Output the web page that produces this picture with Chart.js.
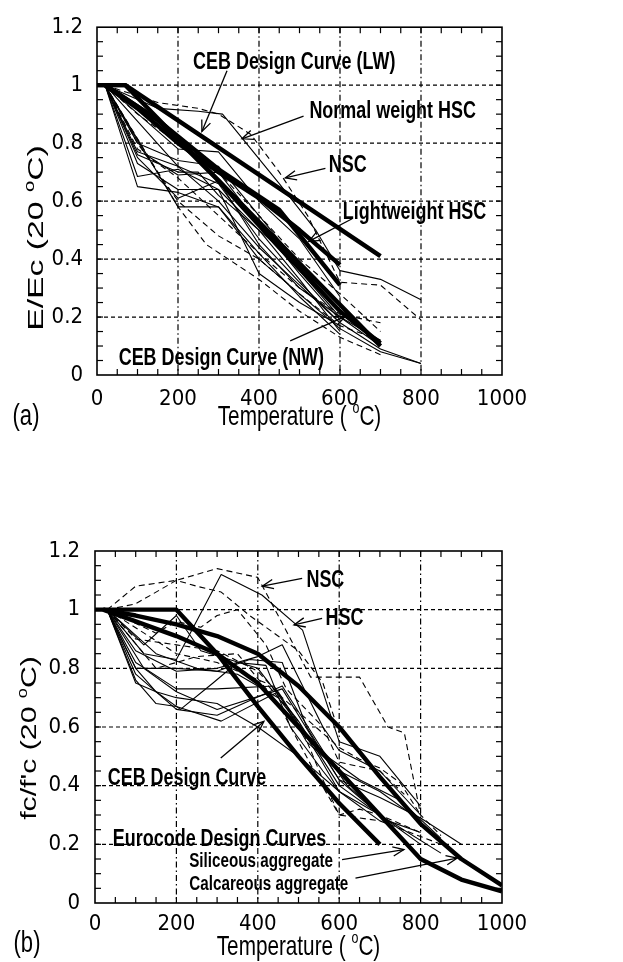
<!DOCTYPE html>
<html>
<head>
<meta charset="utf-8">
<script src="https://cdn.jsdelivr.net/npm/chart.js@4.4.1/dist/chart.umd.min.js"></script>
<style>
  html, body { margin: 0; padding: 0; background: #fff; }
  #wrap { position: relative; width: 623px; height: 962px; }
  .box { position: absolute; left: 0; width: 623px; }
</style>
</head>
<body>
<div id="wrap">
  <div class="box" style="top:0;height:480px"><canvas id="chartA" width="623" height="480"></canvas></div>
  <div class="box" style="top:480px;height:482px"><canvas id="chartB" width="623" height="482"></canvas></div>
</div>
<script>
// --- axis ticks (shared by both panels) ---
const X_TICKS = [0, 200, 400, 600, 800, 1000];
const X_TICK_LABELS = ['0', '200', '400', '600', '800', '1000'];
const Y_TICKS = [0, 0.2, 0.4, 0.6, 0.8, 1.0, 1.2];
const Y_TICK_LABELS = ['0', '0.2', '0.4', '0.6', '0.8', '1', '1.2'];
const X_GRID = [200, 400, 600, 800];
const Y_GRID = [0.2, 0.4, 0.6, 0.8, 1.0];

// --- panel (a): E/Ec vs temperature, points are [°C, ratio] ---
const aSolid1 = [[20,1],[100,0.77],[200,0.72],[300,0.66],[400,0.47],[500,0.32],[600,0.18],[700,0.09],[800,0.04]];
const aSolid2 = [[20,1],[100,0.65],[200,0.63],[300,0.58],[400,0.4],[500,0.28],[600,0.16],[700,0.08],[800,0.04]];
const aSolid3 = [[20,1],[100,0.685],[200,0.71],[300,0.64],[400,0.35],[500,0.25],[600,0.17]];
const aSolid4 = [[20,1],[100,0.75],[200,0.61],[300,0.67],[400,0.45],[500,0.3],[600,0.2],[700,0.1]];
const aSolid5 = [[20,1],[100,0.8],[200,0.74],[300,0.72],[400,0.55],[500,0.38],[600,0.22],[700,0.11]];
const aSolid6 = [[20,1],[150,0.92],[250,0.91],[310,0.9],[450,0.66],[540,0.5],[600,0.36],[700,0.33],[800,0.26]];
const aSolid7 = [[20,1],[200,0.78],[300,0.77],[400,0.6],[500,0.47],[600,0.27]];
const aSolid8 = [[20,1],[120,0.76],[200,0.69],[300,0.7],[400,0.52],[500,0.35],[600,0.19]];
const aSolid9 = [[20,1],[100,0.73],[200,0.64],[300,0.64],[400,0.5],[500,0.33],[600,0.15]];
const aSolid10 = [[20,1],[100,0.76],[200,0.7],[250,0.7],[300,0.62],[450,0.44],[600,0.2],[700,0.12]];
const aSolid11 = [[20,1],[200,0.72],[300,0.6],[400,0.44],[500,0.31],[600,0.18]];
const aSolid12 = [[20,1],[200,0.58],[300,0.58],[400,0.42],[500,0.27],[600,0.14]];

const aDash1 = [[20,1],[150,0.94],[250,0.92],[300,0.9],[380,0.83],[450,0.7],[520,0.55],[600,0.32],[700,0.31],[800,0.19]];
const aDash2 = [[20,1],[100,0.8],[200,0.6],[300,0.48],[400,0.4],[500,0.28],[600,0.17],[700,0.12]];
const aDash3 = [[20,1],[150,0.7],[200,0.58],[270,0.45],[400,0.33],[500,0.22],[600,0.13],[700,0.07]];
const aDash4 = [[20,1],[100,0.78],[200,0.68],[300,0.55],[400,0.42],[500,0.3],[600,0.21],[700,0.18]];
const aDash5 = [[20,1],[100,0.9],[200,0.8],[300,0.7],[400,0.55],[500,0.4],[600,0.28],[700,0.15]];

const aCebLW = [[0,1],[70,1],[700,0.41]];
const aCebNW = [[0,1],[70,1],[700,0.1]];
const aThick3 = [[20,1],[150,0.88],[300,0.71],[450,0.57],[600,0.31]];
const aThick4 = [[20,1],[100,0.92],[200,0.8],[300,0.7],[400,0.61],[500,0.5],[600,0.38]];
const aThick5 = [[20,1],[150,0.88],[300,0.67],[450,0.44],[600,0.22],[700,0.11]];

// --- panel (b): fc/f'c vs temperature ---
const bSolid1 = [[30,1],[100,0.76],[150,0.68],[200,0.67],[310,0.62],[450,0.72],[550,0.5],[600,0.38],[700,0.3],[800,0.2]];
const bSolid2 = [[30,1],[100,0.78],[200,0.66],[300,0.64],[460,0.74],[560,0.52],[620,0.4],[720,0.28],[800,0.24]];
const bSolid3 = [[30,1],[120,0.8],[200,0.72],[300,0.66],[460,0.73],[540,0.55],[600,0.42],[700,0.3],[850,0.17]];
const bSolid4 = [[30,1],[100,0.82],[200,0.73],[300,0.73],[440,0.74],[520,0.55],[600,0.45],[700,0.38],[800,0.28]];
const bSolid5 = [[30,1],[120,0.85],[200,0.83],[310,1.12],[410,1.05],[510,0.93],[560,0.72],[600,0.55],[700,0.5],[800,0.33]];
const bSolid6 = [[30,1],[100,0.86],[200,0.79],[300,0.8],[400,0.84],[460,0.88],[560,0.6],[600,0.52],[700,0.45],[800,0.3]];
const bSolid7 = [[30,1],[100,0.8],[150,0.72],[210,0.66],[290,0.75],[350,0.82],[420,0.81],[480,0.6],[560,0.45],[600,0.38]];
const bSolid8 = [[30,1],[120,0.88],[200,0.98],[260,0.86],[400,0.8],[500,0.62],[600,0.4],[700,0.3]];
const bSolid9 = [[30,1],[100,0.8],[200,0.8],[300,0.79],[380,0.83],[460,0.82],[520,0.6],[600,0.42],[700,0.36],[800,0.29],[900,0.2]];
const bSolid10 = [[30,1],[150,0.85],[250,0.8],[350,0.78],[450,0.7],[550,0.52],[650,0.42],[750,0.35],[850,0.22]];
const bSolid11 = [[30,1],[100,0.75],[150,0.72],[200,0.7],[300,0.68],[400,0.6],[500,0.5],[600,0.38],[700,0.28]];

const bDash1 = [[30,1],[100,1.08],[200,1.1],[300,1.14],[400,1.11],[450,0.98],[530,0.77],[650,0.77],[720,0.6],[760,0.58],[800,0.3],[850,0.23]];
const bDash2 = [[30,1],[100,1.02],[200,1.1],[250,1.08],[310,1.06],[380,0.98],[440,0.92],[500,0.86],[560,0.75],[600,0.58]];
const bDash3 = [[30,1],[150,0.92],[200,0.96],[260,0.94],[300,0.98],[350,1.0],[420,0.88],[470,0.73],[560,0.6],[600,0.48],[700,0.45],[760,0.37]];
const bDash4 = [[30,1],[200,0.85],[300,0.82],[420,0.75],[500,0.62],[560,0.42],[600,0.3],[700,0.28],[850,0.2]];
const bDash5 = [[30,1],[150,0.8],[250,0.84],[350,0.85],[450,0.68],[550,0.42],[600,0.3],[650,0.32],[700,0.3],[800,0.24]];
const bDash6 = [[30,1],[100,0.9],[200,0.88],[300,0.86],[400,0.79],[460,0.7],[600,0.53],[650,0.49],[700,0.46],[750,0.41],[800,0.3]];

const bCeb = [[0,1],[200,1],[300,0.85],[400,0.67],[500,0.5],[600,0.34],[700,0.2]];
const bEuroSil = [[20,1],[100,0.96],[200,0.91],[300,0.85],[400,0.75],[500,0.6],[600,0.45],[700,0.3],[800,0.15],[900,0.08],[1000,0.04]];
const bEuroCal = [[20,1],[100,0.98],[200,0.95],[300,0.91],[400,0.85],[500,0.74],[600,0.6],[700,0.43],[800,0.27],[900,0.15],[1000,0.06]];

const FONT = '"Liberation Sans", Arial, Helvetica, sans-serif';
const FONT_NARROW = '"Liberation Sans Narrow", "Arial Narrow", "DejaVu Sans Condensed", "Liberation Sans", Arial, sans-serif';

function lineSet(pts, width, dash) {
  return {
    data: pts.map(p => ({ x: p[0], y: p[1] })),
    borderColor: '#000', borderWidth: width, borderDash: dash || [],
    pointRadius: 0, tension: 0, fill: false, borderJoinStyle: 'round'
  };
}

function seg(ctx, x1, y1, x2, y2) {
  ctx.beginPath(); ctx.moveTo(x1, y1); ctx.lineTo(x2, y2); ctx.stroke();
}

function arrow(ctx, x1, y1, x2, y2) {
  seg(ctx, x1, y1, x2, y2);
  const ang = Math.atan2(y2 - y1, x2 - x1), L = 12, w = 0.4;
  ctx.beginPath();
  ctx.moveTo(x2 - L * Math.cos(ang - w), y2 - L * Math.sin(ang - w));
  ctx.lineTo(x2, y2);
  ctx.lineTo(x2 - L * Math.cos(ang + w), y2 - L * Math.sin(ang + w));
  ctx.stroke();
}

// text made of parts, some parts raised and small (the "o" in oC)
function richText(ctx, parts, cx, cy, size, bold, rotate, sx, sy) {
  ctx.save();
  ctx.translate(cx, cy);
  if (rotate) ctx.rotate(-Math.PI / 2);
  ctx.scale(sx, sy);
  ctx.fillStyle = '#000';
  ctx.textBaseline = 'alphabetic';
  const fnt = s => (bold ? 'bold ' : '') + s + 'px ' + FONT;
  let total = 0;
  parts.forEach(p => { ctx.font = fnt(p.sup ? size * 0.6 : size); p.w = ctx.measureText(p.t).width; total += p.w; });
  let x = -total / 2;
  parts.forEach(p => {
    ctx.font = fnt(p.sup ? size * 0.6 : size);
    ctx.fillText(p.t, x, p.sup ? size * 0.358 - size * 0.42 : size * 0.358);
    x += p.w;
  });
  ctx.restore();
}

const framePlugin = {
  id: 'frame',
  beforeDatasetsDraw(chart) {
    const { ctx, chartArea: a, scales: { x, y } } = chart;
    ctx.save();
    ctx.strokeStyle = '#000';
    ctx.lineWidth = 1.2;
    ctx.setLineDash([6, 3, 1.5, 3]);
    X_GRID.forEach(v => { const px = x.getPixelForValue(v); seg(ctx, px, a.top, px, a.bottom); });
    ctx.setLineDash([4, 3]);
    Y_GRID.forEach(v => { const py = y.getPixelForValue(v); seg(ctx, a.left, py, a.right, py); });
    ctx.restore();
  },
  afterDatasetsDraw(chart, args, opts) {
    const { ctx, chartArea: a, scales: { x, y } } = chart;
    ctx.save();
    ctx.strokeStyle = '#000';
    ctx.setLineDash([]);
    ctx.lineWidth = 1.6;
    ctx.strokeRect(a.left, a.top, a.right - a.left, a.bottom - a.top);
    // inward minor ticks on all four sides
    ctx.lineWidth = 1.2;
    const tl = 6;
    for (let t = 50; t < 1000; t += 50) {
      const px = x.getPixelForValue(t);
      seg(ctx, px, a.bottom, px, a.bottom - tl);
      seg(ctx, px, a.top, px, a.top + tl);
    }
    for (let k = 1; k < 24; k++) {
      const py = y.getPixelForValue(k * 0.05);
      seg(ctx, a.left, py, a.left + tl, py);
      seg(ctx, a.right, py, a.right - tl, py);
    }
    // arrows and labels
    ctx.lineWidth = 1.3;
    opts.arrows.forEach(r => arrow(ctx, x.getPixelForValue(r[0][0]), y.getPixelForValue(r[0][1]),
      x.getPixelForValue(r[1][0]), y.getPixelForValue(r[1][1])));
    opts.labels.forEach(l => richText(ctx, [{ t: l.text }], x.getPixelForValue(l.x), y.getPixelForValue(l.y),
      l.size, true, false, 0.78, 1));
    // titles
    const xt = opts.xTitle, yt = opts.yTitle;
    richText(ctx, [{ t: 'Temperature ( ' }, { t: 'o', sup: true }, { t: 'C)' }], (a.left + a.right) / 2, xt.y, 28, false, false, 0.74, 1);
    richText(ctx, [{ t: yt.text }, { t: 'o', sup: true }, { t: 'C)' }], yt.x, yt.y, 27, false, true, yt.len, 0.85);
    richText(ctx, [{ t: opts.panel.text }], opts.panel.x, opts.panel.y, 29, false, false, 0.76, 1);
    ctx.restore();
  }
};

function makeOptions(cfg) {
  const tickFont = { family: FONT_NARROW, size: 22 };
  return {
    responsive: false, animation: false, events: [],
    layout: { padding: { top: cfg.top, right: 121, left: 0, bottom: 0 } },
    plugins: { legend: { display: false }, tooltip: { enabled: false }, frame: cfg.frame },
    scales: {
      x: {
        type: 'linear', min: 0, max: 1000,
        afterBuildTicks: s => { s.ticks = X_TICKS.map(v => ({ value: v })); },
        afterFit: s => { s.height = cfg.xh; },
        ticks: { color: '#000', padding: cfg.xpad, maxRotation: 0, autoSkip: false, font: tickFont,
          callback: (v, i) => X_TICK_LABELS[i] },
        grid: { display: false, drawTicks: false }, border: { display: false }
      },
      y: {
        type: 'linear', min: 0, max: 1.2,
        afterBuildTicks: s => { s.ticks = Y_TICKS.map(v => ({ value: v })); },
        afterFit: s => { s.width = cfg.yw; },
        ticks: { color: '#000', padding: cfg.ypad, autoSkip: false, font: tickFont,
          callback: (v, i) => Y_TICK_LABELS[i] },
        grid: { display: false, drawTicks: false }, border: { display: false }
      }
    }
  };
}

const THIN = 1.1, THICK = 4.4, DASH = [6, 4];

const dataA = [
  ...[aSolid1, aSolid2, aSolid3, aSolid4, aSolid5, aSolid6, aSolid7, aSolid8, aSolid9, aSolid10, aSolid11, aSolid12].map(s => lineSet(s, THIN)),
  ...[aDash1, aDash2, aDash3, aDash4, aDash5].map(s => lineSet(s, THIN, DASH)),
  ...[aCebLW, aCebNW, aThick3, aThick4, aThick5].map(s => lineSet(s, THICK))
];

const dataB = [
  ...[bSolid1, bSolid2, bSolid3, bSolid4, bSolid5, bSolid6, bSolid7, bSolid8, bSolid9, bSolid10, bSolid11].map(s => lineSet(s, THIN)),
  ...[bDash1, bDash2, bDash3, bDash4, bDash5, bDash6].map(s => lineSet(s, THIN, DASH)),
  ...[bCeb, bEuroSil, bEuroCal].map(s => lineSet(s, THICK))
];

new Chart(document.getElementById('chartA'), {
  type: 'line',
  data: { datasets: dataA },
  plugins: [framePlugin],
  options: makeOptions({
    top: 19, xh: 105, yw: 97, xpad: 11, ypad: 14,
    frame: {
      labels: [
        { text: 'CEB Design Curve (LW)', x: 487, y: 1.084, size: 23 },
        { text: 'Normal weight HSC', x: 730, y: 0.916, size: 23 },
        { text: 'NSC', x: 619, y: 0.73, size: 23 },
        { text: 'Lightweight HSC', x: 784, y: 0.567, size: 23 },
        { text: 'CEB Design Curve (NW)', x: 307, y: 0.062, size: 23 }
      ],
      arrows: [
        [[321, 1.05], [259, 0.84]],
        [[510, 0.893], [358, 0.815]],
        [[564, 0.713], [465, 0.68]],
        [[630, 0.539], [523, 0.461]],
        [[477, 0.118], [613, 0.202]]
      ],
      xTitle: { y: 415 },
      yTitle: { text: 'E/Ec (20 ', x: 35, y: 238, len: 1.25 },
      panel: { text: '(a)', x: 26, y: 415 }
    }
  })
});

new Chart(document.getElementById('chartB'), {
  type: 'line',
  data: { datasets: dataB },
  plugins: [framePlugin],
  options: makeOptions({
    top: 71, xh: 59, yw: 95, xpad: 8, ypad: 15,
    frame: {
      labels: [
        { text: 'NSC', x: 566, y: 1.107, size: 23 },
        { text: 'HSC', x: 613, y: 0.976, size: 23 },
        { text: 'CEB Design Curve', x: 226, y: 0.431, size: 23 },
        { text: 'Eurocode Design Curves', x: 306, y: 0.221, size: 23 },
        { text: 'Siliceous aggregate', x: 408, y: 0.148, size: 19.5 },
        { text: 'Calcareous aggregate', x: 427, y: 0.068, size: 19.5 }
      ],
      arrows: [
        [[509, 1.107], [411, 1.08]],
        [[558, 0.97], [489, 0.948]],
        [[309, 0.494], [415, 0.619]],
        [[607, 0.148], [759, 0.182]],
        [[640, 0.085], [890, 0.153]]
      ],
      xTitle: { y: 465 },
      yTitle: { text: "fc/f'c (20 ", x: 28, y: 258, len: 1.12 },
      panel: { text: '(b)', x: 27, y: 462 }
    }
  })
});
</script>
</body>
</html>
